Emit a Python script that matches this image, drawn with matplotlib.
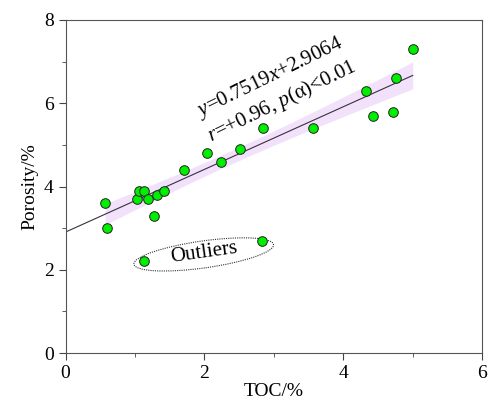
import numpy as np
import matplotlib.pyplot as plt
from matplotlib.patches import Ellipse
from matplotlib.transforms import ScaledTranslation
from matplotlib.ticker import MultipleLocator

plt.rcParams['font.family'] = 'Liberation Serif'
plt.rcParams['mathtext.fontset'] = 'custom'
plt.rcParams['mathtext.rm'] = 'Liberation Serif'
plt.rcParams['mathtext.it'] = 'Liberation Serif:italic'

# data
toc = [0.57, 0.60, 1.03, 1.06, 1.13, 1.19, 1.32, 1.27, 1.42, 1.70, 2.04,
       2.24, 2.51, 2.85, 3.57, 4.33, 4.43, 4.71, 4.76, 5.00]
porosity = [3.6, 3.0, 3.7, 3.9, 3.9, 3.7, 3.8, 3.3, 3.9, 4.4, 4.8,
            4.6, 4.9, 5.4, 5.4, 6.3, 5.7, 5.8, 6.6, 7.3]
outlier_toc = [1.13, 2.83]
outlier_por = [2.2, 2.7]

slope, intercept = 0.7519, 2.9064

fig = plt.figure(figsize=(4.89, 4.05), dpi=100)
ax = fig.add_axes([0.134, 0.128, 0.852, 0.823])

# 95% confidence band of the fit
x = np.array(toc)
y = np.array(porosity)
xs = np.linspace(x.min(), x.max(), 100)
resid = y - (slope * x + intercept)
n = len(x)
s = np.sqrt(np.sum(resid ** 2) / (n - 2))
sxx = np.sum((x - x.mean()) ** 2)
half = 2.101 * s * np.sqrt(1 / n + (xs - x.mean()) ** 2 / sxx)
fit = slope * xs + intercept
ax.fill_between(xs, fit - half, fit + half, color='#f2e1fb', lw=0, zorder=1)

xl = np.array([0, x.max()])
ax.plot(xl, slope * xl + intercept, color='#3a2f3f', lw=0.8, zorder=2)

ax.scatter(toc + outlier_toc, porosity + outlier_por, s=48, c='#00ee00',
           edgecolors='#222222', linewidths=0.7, zorder=3)

ax.text(2.95, 6.62, r'$y$=0.7519$x$+2.9064', rotation=26, ha='center',
        va='center', fontsize=15, rotation_mode='anchor')
ax.text(3.12, 6.05, r'$r$=+0.96, $p$(α)<0.01', rotation=26, ha='center',
        va='center', fontsize=15, rotation_mode='anchor')

# dotted ellipse round the outliers
tr = fig.dpi_scale_trans + ScaledTranslation(1.99, 2.37, ax.transData)
ax.add_patch(Ellipse((0, 0), 1.41, 0.27, angle=8, fill=False, ls=(0, (1, 1)),
                     lw=0.8, ec='#333333', transform=tr, zorder=2))
ax.text(2.0, 2.4, 'Outliers', rotation=8, ha='center', va='center',
        fontsize=15, rotation_mode='anchor')

ax.set_xlim(0, 6)
ax.set_ylim(0, 8)
ax.xaxis.set_major_locator(MultipleLocator(2))
ax.xaxis.set_minor_locator(MultipleLocator(1))
ax.yaxis.set_major_locator(MultipleLocator(2))
ax.yaxis.set_minor_locator(MultipleLocator(1))
ax.tick_params(which='both', direction='out', top=False, right=False,
               labelsize=14, color='#444444')
ax.tick_params(which='major', length=5)
ax.tick_params(which='minor', length=3)
for sp in ax.spines.values():
    sp.set_color('#555555')

ax.set_xlabel('TOC/%', fontsize=14, labelpad=1)
ax.set_ylabel('Porosity/%', fontsize=14, labelpad=4)

fig.savefig('out.png', dpi=100)
